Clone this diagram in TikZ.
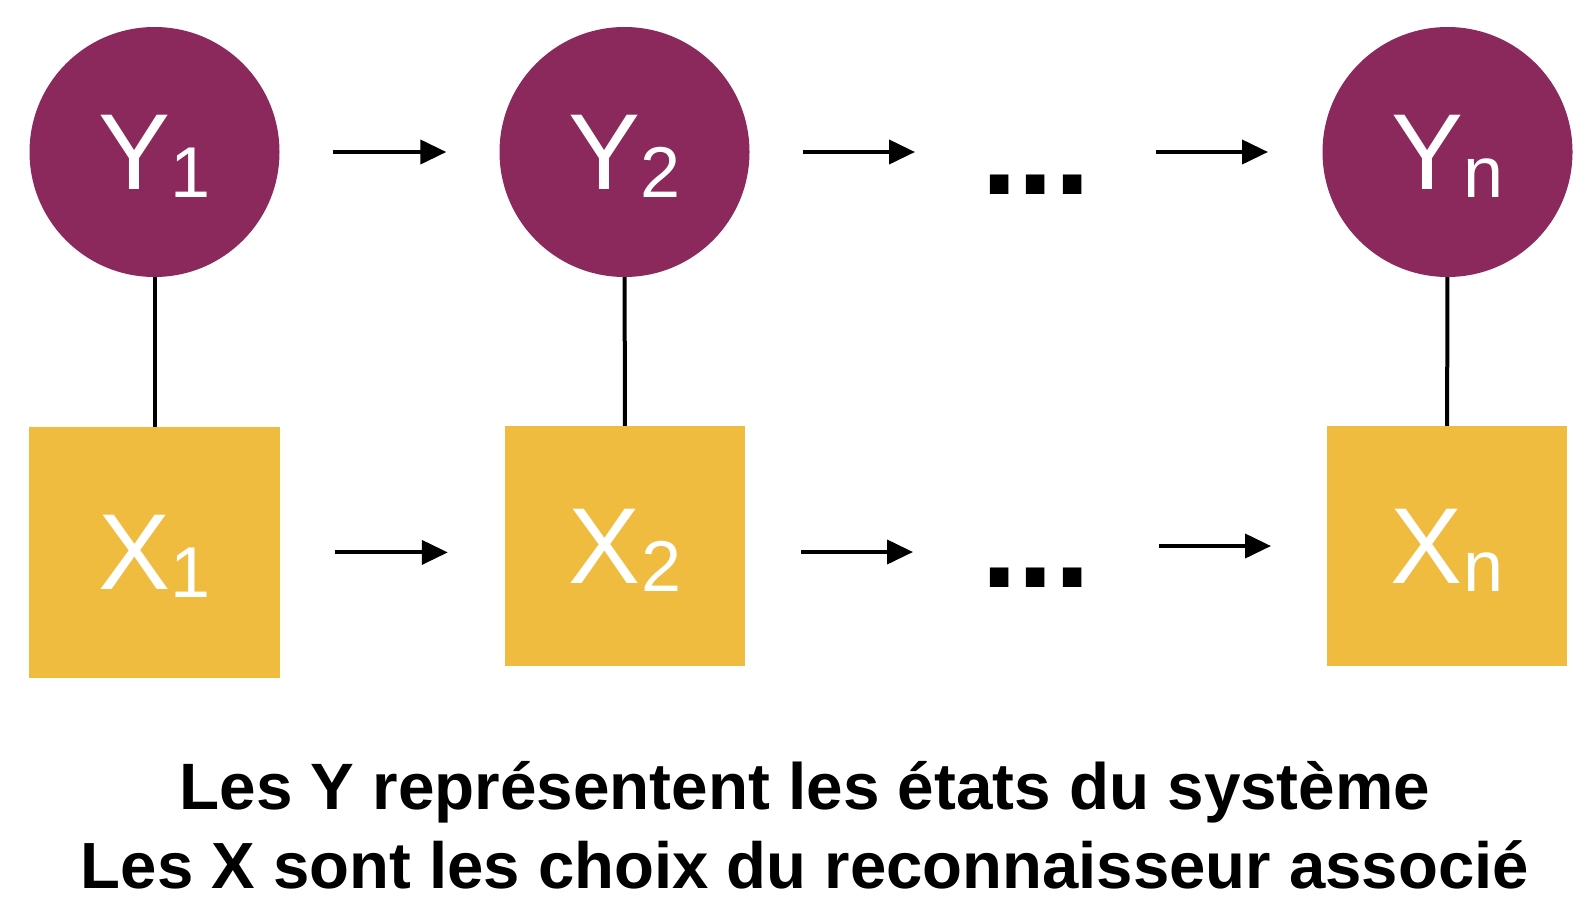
\documentclass[tikz,border=0pt]{standalone}
\usepackage{fontspec}
\setmainfont{Liberation Sans}
\usepackage{xcolor}
\usetikzlibrary{arrows.meta}

\definecolor{stateplum}{RGB}{139,40,92}
\definecolor{choicegold}{RGB}{239,188,64}

\newcommand{\lowidx}[1]{\raisebox{-8pt}[0pt][0pt]{\fontsize{72}{72}\selectfont #1}}

\tikzset{
  state/.style={circle,fill=stateplum,text=white,minimum size=250pt,inner sep=0pt,
    font=\fontsize{108}{108}\selectfont},
  choice/.style={rectangle,fill=choicegold,text=white,inner sep=0pt,
    font=\fontsize{108}{108}\selectfont},
  link/.style={line width=4pt},
  flow/.style={line width=4pt,-{Triangle[length=26pt,width=24pt]}},
  gapdots/.style={anchor=base,inner sep=0pt,font=\bfseries\fontsize{131}{131}\selectfont},
}

\begin{document}
\begin{tikzpicture}[x=1pt,y=-1pt]
	 \useasboundingbox (0,0) rectangle (1594,916);
	 % states
	 \node[state] (Y1) at (154.5,152) {Y\lowidx{1}};
	 \node[state] (Y2) at (624.5,152) {Y\lowidx{2}};
	 \node[state] (Yn) at (1447.5,152) {Y\lowidx{n}};
	 % choices
	 \node[choice,minimum size=251pt] (X1) at (154.5,552.4) {X\lowidx{1}};
	 \node[choice,minimum size=240pt] (X2) at (625,546) {X\lowidx{2}};
	 \node[choice,minimum size=240pt] (Xn) at (1447,546) {X\lowidx{n}};
	 % ...
	 \node[gapdots] (dotsY) at (1036,194) {...};
	 \node[gapdots] (dotsX) at (1036,587) {...};
	 \coordinate (a2s) at (801,552);
	 \coordinate (a2e) at (913,552);
	 \coordinate (a3s) at (1159,546);
	 \coordinate (a3e) at (1271,546);
	 \coordinate (b2s) at (803,152);
	 \coordinate (b2e) at (915,152);
	 \coordinate (b3s) at (1156,152);
	 \coordinate (b3e) at (1268,152);
	 % links
	 \draw[link] (Y1) -- (X1);
	 \draw[link] (Y2) -- (X2);
	 \draw[link] (Yn) -- (Xn);
	 % arrows
	 \draw[flow,shorten <=53pt,shorten >=53pt] (Y1) -- (Y2);
	 \draw[flow] (b2s) -- (b2e);
	 \draw[flow] (b3s) -- (b3e);
	 \draw[flow,shorten <=55pt,shorten >=57pt] (X1.east) -- (X1.east -| X2.west);
	 \draw[flow] (a2s) -- (a2e);
	 \draw[flow] (a3s) -- (a3e);
	 % legend
	 \node[anchor=base,inner sep=0pt,font=\bfseries\fontsize{65.6}{79.5}\selectfont] (legend) at (805,809)
	   {Les Y représentent les états du système};
	 \node[anchor=base,inner sep=0pt,font=\bfseries\fontsize{65.3}{79.5}\selectfont] (legend2) at (805,888)
	   {Les X sont les choix du reconnaisseur associé};
\end{tikzpicture}
\end{document}
